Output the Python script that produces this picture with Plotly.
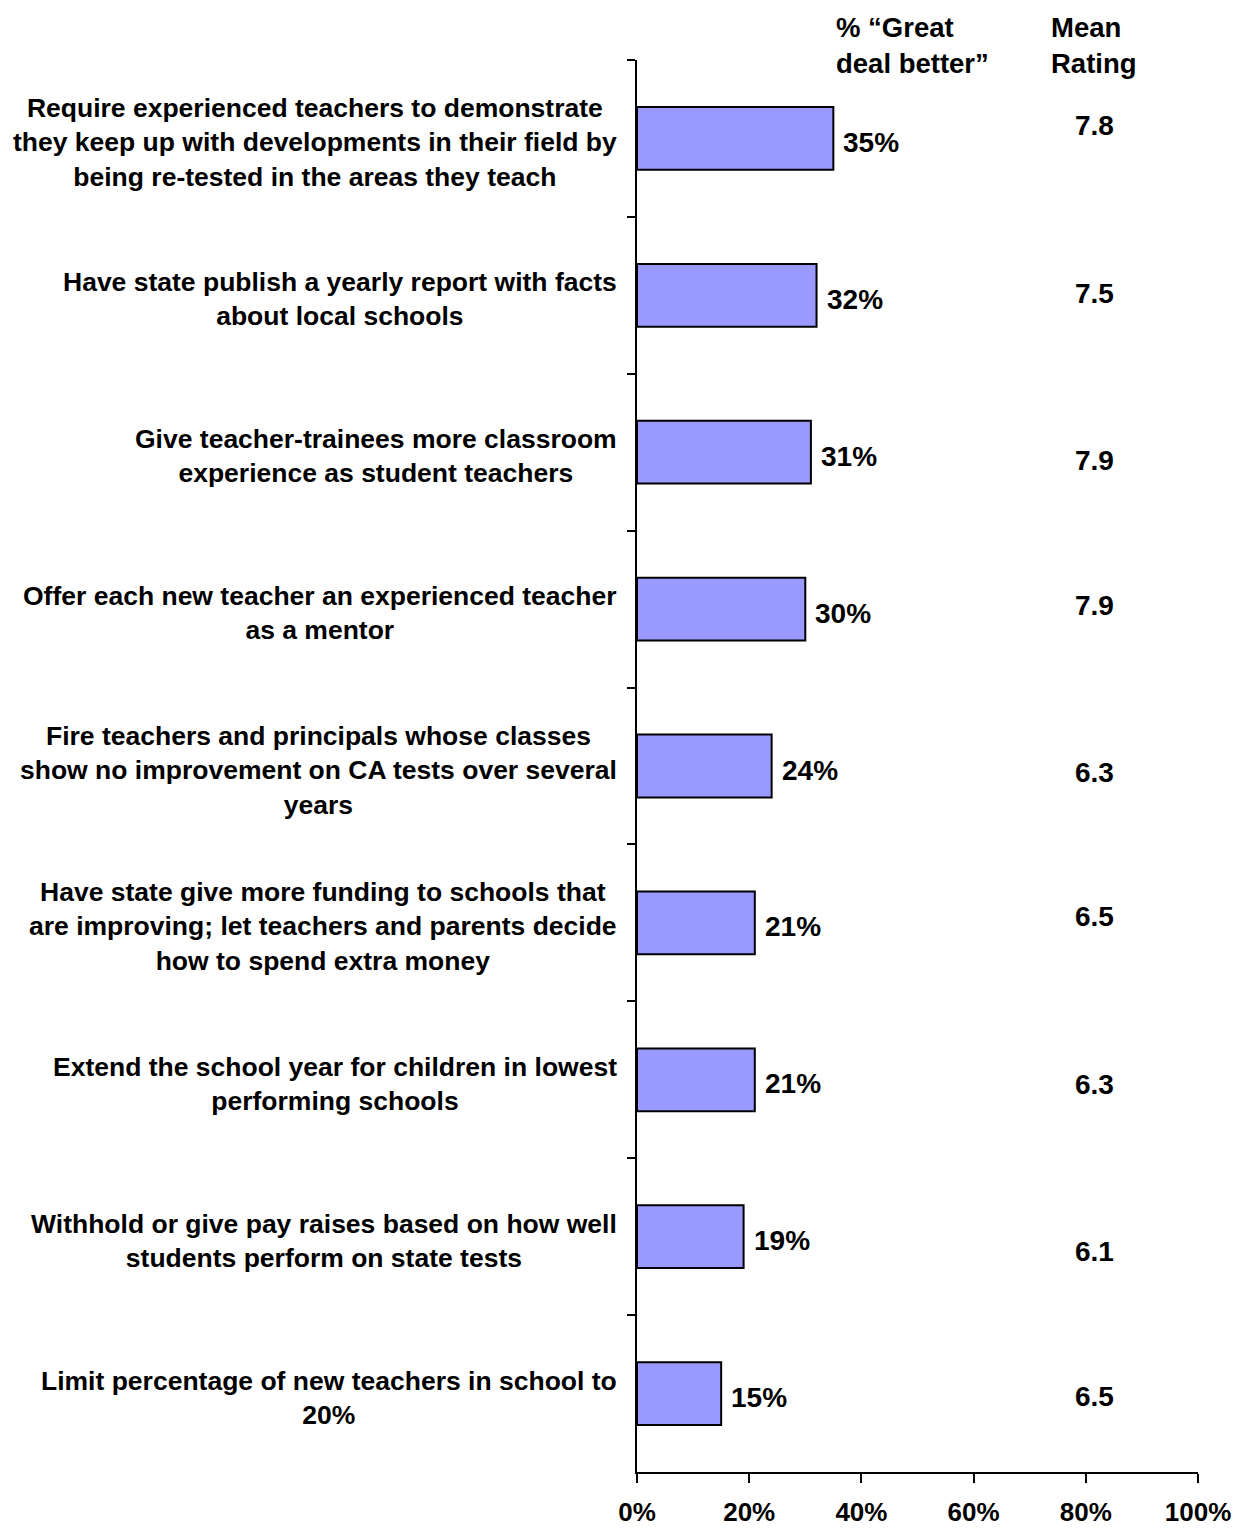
import plotly.graph_objects as go

# Survey items (top to bottom), share saying "great deal better", and mean rating
items = [
    "Require experienced teachers to demonstrate<br>they keep up with developments in their field by<br>being re-tested in the areas they teach",
    "Have state publish a yearly report with facts<br>about local schools",
    "Give teacher-trainees more classroom<br>experience as student teachers",
    "Offer each new teacher an experienced teacher<br>as a mentor",
    "Fire teachers and principals whose classes<br>show no improvement on CA tests over several<br>years",
    "Have state give more funding to schools that<br>are improving; let teachers and parents decide<br>how to spend extra money",
    "Extend the school year for children in lowest<br>performing schools",
    "Withhold or give pay raises based on how well<br>students perform on state tests",
    "Limit percentage of new teachers in school to<br>20%",
]
great_deal_better = [35, 32, 31, 30, 24, 21, 21, 19, 15]
mean_rating = [7.8, 7.5, 7.9, 7.9, 6.3, 6.5, 6.3, 6.1, 6.5]
x_ticks = [0, 20, 40, 60, 80, 100]
x_tick_labels = ["0%", "20%", "40%", "60%", "80%", "100%"]

FONT = "Liberation Sans, Arial, sans-serif"
BAR_COLOR = "#9999FF"
rating_col_x = 0.816          # paper x of the rating column centre
rating_yshift = [13, 2, -8, 4, -6, 6, -5, -15, -3]

fig = go.Figure(
    go.Bar(
        x=great_deal_better,
        y=items,
        orientation="h",
        width=0.4,
        marker=dict(color=BAR_COLOR, line=dict(color="black", width=2)),
        hoverinfo="skip",
    )
)

annotations = []
for item, v, r, ys in zip(items, great_deal_better, mean_rating, rating_yshift):
    # category label to the left of the axis
    annotations.append(dict(
        x=0, xref="paper", y=item, yref="y", text=f"<b>{item}</b>",
        xanchor="right", yanchor="middle", align="center", xshift=-18, yshift=-4,
        showarrow=False, font=dict(family=FONT, size=26.5, color="black"),
    ))
    # value label at the end of the bar
    annotations.append(dict(
        x=v, xref="x", y=item, yref="y", text=f"<b>{v}%</b>",
        xanchor="left", yanchor="middle", xshift=8, yshift=-4,
        showarrow=False, font=dict(family=FONT, size=28, color="black"),
    ))
    # mean rating column
    annotations.append(dict(
        x=rating_col_x, xref="paper", y=item, yref="y", text=f"<b>{r}</b>",
        xanchor="center", yanchor="middle", yshift=ys,
        showarrow=False, font=dict(family=FONT, size=28, color="black"),
    ))

# column headers
annotations.append(dict(
    x=(834 - 637) / 561, xref="paper", y=1, yref="paper", yshift=-21,
    text="<b>% “Great<br>deal better”</b>", xanchor="left", yanchor="bottom", align="left",
    showarrow=False, font=dict(family=FONT, size=27.5, color="black"),
))
annotations.append(dict(
    x=(1049 - 637) / 561, xref="paper", y=1, yref="paper", yshift=-21,
    text="<b>Mean<br>Rating</b>", xanchor="left", yanchor="bottom", align="left",
    showarrow=False, font=dict(family=FONT, size=27.5, color="black"),
))

fig.update_layout(
    width=1235,
    height=1530,
    margin=dict(l=637, r=37, t=60, b=58),
    paper_bgcolor="white",
    plot_bgcolor="white",
    showlegend=False,
    annotations=annotations,
    xaxis=dict(
        range=[0, 100],
        tickvals=x_ticks,
        ticktext=[f"<b>{t}</b>" for t in x_tick_labels],
        ticks="outside",
        ticklen=9,
        tickwidth=2,
        tickcolor="black",
        ticklabelstandoff=7,
        showline=True,
        linecolor="black",
        linewidth=2,
        showgrid=False,
        zeroline=False,
        automargin=False,
        tickfont=dict(family=FONT, size=26, color="black"),
        fixedrange=True,
    ),
    yaxis=dict(
        type="category",
        autorange="reversed",
        tickson="boundaries",
        ticks="outside",
        ticklen=8,
        tickwidth=2,
        tickcolor="black",
        showticklabels=False,
        showline=True,
        linecolor="black",
        linewidth=2,
        showgrid=False,
        zeroline=False,
        automargin=False,
        fixedrange=True,
    ),
)

fig.write_html("out.html")
